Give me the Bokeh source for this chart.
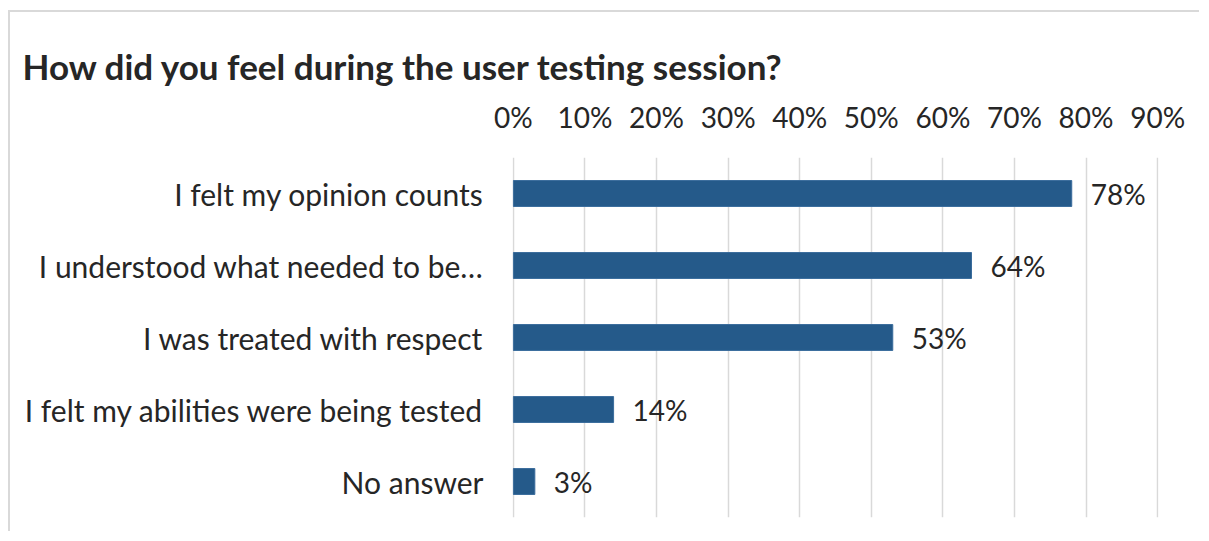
from bokeh.plotting import figure
from bokeh.models import ColumnDataSource, FixedTicker, NumeralTickFormatter, Range1d
from bokeh.embed import file_html
from bokeh.resources import INLINE
from bokeh.core.properties import value

categories = [
    "I felt my opinion counts",
    "I understood what needed to be…",
    "I was treated with respect",
    "I felt my abilities were being tested",
    "No answer",
]
values = [0.78, 0.64, 0.53, 0.14, 0.03]
value_labels = ["78%", "64%", "53%", "14%", "3%"]
tick_values = [0.0, 0.1, 0.2, 0.3, 0.4, 0.5, 0.6, 0.7, 0.8, 0.9]
title_text = "How did you feel during the user testing session?"

FONT = "Lato"
TXT = "#262626"
BAR = "#255A8A"
GRID = "#d9d9d9"

source = ColumnDataSource(dict(cat=categories, val=values, lab=value_labels))

p = figure(
    width=1191, height=521,
    y_range=list(reversed(categories)),
    x_range=Range1d(-0.0012, 0.9012),
    x_axis_location="above",
    output_backend="svg",
    toolbar_location=None,
    min_border_left=502, min_border_right=43,
    min_border_top=145, min_border_bottom=16,
)
p.styles = {"border-top": "2px solid #d9d9d9", "border-left": "2px solid #d9d9d9",
            "margin-top": "10px", "margin-left": "8px"}
p.outline_line_color = None

p.hbar(y="cat", right="val", left=0, height=0.36, source=source,
       fill_color=BAR, line_color="#3a6c9c", line_width=1)
p.text(x="val", y="cat", text="lab", source=source, x_offset=19,
       text_align="left", text_baseline="middle",
       text_font=value(FONT), text_font_size="28px", text_color=TXT)

xa = p.xaxis[0]
xa.ticker = FixedTicker(ticks=tick_values)
xa.formatter = NumeralTickFormatter(format="0%")
xa.axis_line_color = None
xa.major_tick_line_color = None
xa.minor_tick_line_color = None
xa.major_label_standoff = 18
xa.major_label_text_font = FONT
xa.major_label_text_font_size = "28px"
xa.major_label_text_color = TXT

ya = p.yaxis[0]
ya.axis_line_color = None
ya.major_tick_line_color = None
ya.minor_tick_line_color = None
ya.major_label_standoff = 23
ya.major_label_text_font = FONT
ya.major_label_text_font_size = "30px"
ya.major_label_text_color = TXT

p.xgrid.ticker = FixedTicker(ticks=tick_values)
p.xgrid.grid_line_color = GRID
p.xgrid.grid_line_width = 1.5
p.ygrid.grid_line_color = None

p.title.text = title_text
p.title.align = "left"
p.title.offset = -490
p.title.text_font = FONT
p.title.text_font_size = "35px"
p.title.text_font_style = "bold"
p.title.text_color = TXT
p.title.standoff = 19

open("out.html", "w").write(file_html(p, INLINE))
